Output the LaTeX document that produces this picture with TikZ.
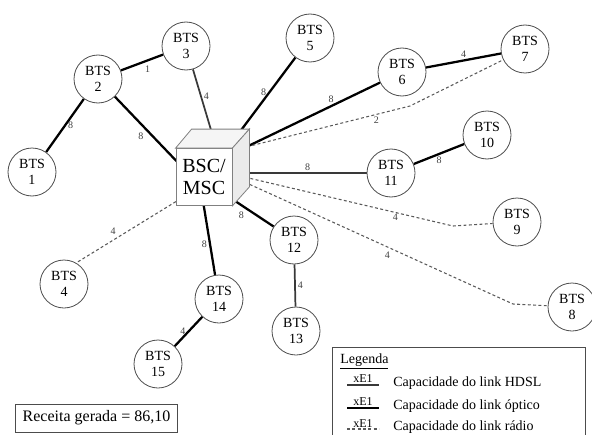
\documentclass[tikz,border=0pt]{standalone}
\usepackage{fontspec}
\setmainfont{Liberation Serif}
\usetikzlibrary{calc,backgrounds}

\begin{document}
\begin{tikzpicture}[x=0.75pt,y=-0.75pt,
  bts/.style={circle,draw=gray!60!black,line width=0.6pt,fill=white,minimum size=36pt,
    inner sep=0pt,align=center,font=\fontsize{10.5}{12.5}\selectfont},
  cube/.style={draw=gray,line width=0.6pt,fill=white},
  optic/.style={line width=1.7pt},
  hdsl/.style={line width=1.3pt,gray!45!black},
  radio/.style={line width=0.8pt,gray!70!black,dash pattern=on 2.2pt off 1.8pt},
  lbl/.style={font=\fontsize{7.5}{8}\selectfont,text=gray!50!black,inner sep=1.5pt},
  legtext/.style={font=\fontsize{10.5}{12}\selectfont,anchor=base west,inner sep=0pt}]
  \useasboundingbox (0,0) rectangle (592,435);
  \node[bts] (bts1) at (32,172) {BTS\\1};
  \node[bts] (bts2) at (98,79) {BTS\\2};
  \node[bts] (bts3) at (186,46) {BTS\\3};
  \node[bts] (bts4) at (64,284) {BTS\\4};
  \node[bts] (bts5) at (310,38) {BTS\\5};
  \node[bts] (bts6) at (402,72) {BTS\\6};
  \node[bts] (bts7) at (525,49) {BTS\\7};
  \node[bts] (bts8) at (572,307) {BTS\\8};
  \node[bts] (bts9) at (517,222) {BTS\\9};
  \node[bts] (bts10) at (487,135) {BTS\\10};
  \node[bts] (bts11) at (391,173) {BTS\\11};
  \node[bts] (bts12) at (294,240) {BTS\\12};
  \node[bts] (bts13) at (296,331) {BTS\\13};
  \node[bts] (bts14) at (219,299) {BTS\\14};
  \node[bts] (bts15) at (158,364) {BTS\\15};
  \node[cube,minimum width=42pt,minimum height=42.75pt,inner sep=0pt,align=center,
    font=\fontsize{15}{17}\selectfont] (bsc) at (204,177) {BSC/\\MSC};
  \draw[cube,fill=gray!8] (bsc.north west) -- ($(bsc.north west)+(16,-19)$)
    -- ($(bsc.north east)+(17,-19)$) -- (bsc.north east) -- cycle;
  \draw[cube,fill=gray!16] (bsc.north east) -- ($(bsc.north east)+(17,-19)$)
    -- ($(bsc.south east)+(17,-19)$) -- (bsc.south east) -- cycle;
  \coordinate (k7) at (410,106);
  \coordinate (k9) at (453,226);
  \coordinate (k8) at (513,304);
  \begin{pgfonlayer}{background}
    \draw[optic] (bts1) -- node[lbl,right] {8} (bts2);
    \draw[optic] (bts2) -- node[lbl,below right] {1} (bts3);
    \draw[optic] (bts2) -- node[lbl,pos=0.45,below left] {8} ($(bsc.center)+(-19,-7)$);
    \draw[hdsl] (bts3) -- node[lbl,pos=0.38,right] {4} ($(bsc.center)+(10,-37)$);
    \draw[optic] (bts5) -- node[lbl,pos=0.4,left] {8} ($(bsc.center)+(26,-32)$);
    \draw[optic] (bts6) -- node[lbl,pos=0.35,above] {8} ($(bsc.center)+(36,-27)$);
    \draw[optic] (bts6) -- node[lbl,above] {4} (bts7);
    \draw[radio] ($(bsc.center)+(38,-29)$) -- node[lbl,pos=0.8,below] {2} (k7) -- (bts7);
    \draw[hdsl] ($(bsc.center)+(36,-4)$) -- node[lbl,pos=0.535,above] {8} (bts11);
    \draw[optic] (bts11) -- node[lbl,below] {8} (bts10);
    \draw[radio] ($(bsc.center)+(36,-1)$) -- node[lbl,pos=0.73,below,inner sep=0.5pt] {4} (k9) -- (bts9);
    \draw[radio] ($(bsc.center)+(36,3)$) -- node[lbl,pos=0.54,below=2pt] {4} (k8) -- (bts8);
    \draw[optic] ($(bsc.center)+(22,18)$) -- node[lbl,pos=0.44,below left] {8} (bts12);
    \draw[hdsl] (bts12) -- node[lbl,right] {4} (bts13);
    \draw[optic] ($(bsc.center)+(-2,18)$) -- node[lbl,pos=0.62,left] {8} (bts14);
    \draw[optic] (bts14) -- node[lbl,left] {4} (bts15);
    \draw[radio] ($(bsc.center)+(-19,19)$) -- node[lbl,pos=0.66,above=2pt] {4} (bts4.60);
  \end{pgfonlayer}
  \node[draw=gray!60!black,line width=0.6pt,minimum width=121pt,minimum height=21pt,
    font=\fontsize{12}{14}\selectfont] (receita) at (96.5,418) {Receita gerada = 86,10};
  \node[draw=gray!60!black,line width=0.6pt,anchor=north west,minimum width=190pt,
    minimum height=70pt] (legend) at (332,347) {};
  \node[legtext] (legtitle) at (340,363) {\underline{Legenda}};
  \foreach \y/\s/\t [count=\i] in {385/hdsl/HDSL,408/optic/óptico,429/radio/rádio} {
    \draw[\s] (347,\y) -- node[above,inner sep=1pt,font=\fontsize{9}{10}\selectfont,text=black] {xE1} (379,\y);
    \node[legtext] (leg\i) at (393,\y+1) {Capacidade do link \t};
  }
\end{tikzpicture}
\end{document}
